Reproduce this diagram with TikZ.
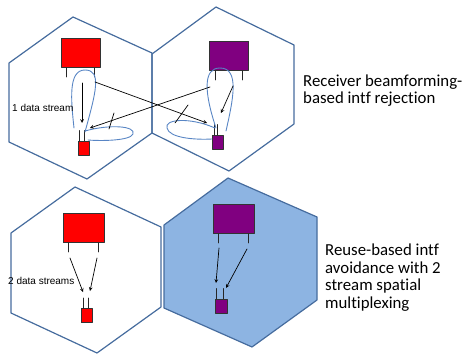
\documentclass[tikz,border=0pt]{standalone}
\usepackage{fontspec}
\setmainfont[Ligatures=NoCommon]{Carlito}
\newfontfamily\arialfont{Liberation Sans}
\definecolor{cellline}{RGB}{70,108,158}
\definecolor{cellfill}{RGB}{141,180,226}
\definecolor{beamline}{RGB}{88,133,196}
\definecolor{uepurple}{RGB}{128,0,128}
\tikzset{
	cell/.style={draw=cellline, line width=1.2pt, line join=round},
	bsbox/.style={draw=black!80, line width=0.8pt, minimum width=39pt, minimum height=29pt, inner sep=0pt},
	uebox/.style={draw=black!80, line width=0.8pt, minimum width=11pt, minimum height=14pt, inner sep=0pt},
	ant/.style={draw=black!85, line width=0.9pt},
	link/.style={->, line width=0.7pt},
	lobe/.style={draw=beamline, line width=0.9pt},
	lbl/.style={font=\arialfont\fontsize{10}{12}\selectfont, inner sep=0pt, anchor=west},
	note/.style={font=\fontsize{16.8}{17.5}\selectfont, align=left, inner sep=0pt, anchor=base west}
}
\begin{document}
\begin{tikzpicture}[x=1pt, y=-1pt, line join=round, line cap=round, >=stealth]
			\useasboundingbox (0,0) rectangle (465,355);
			% cells
			\draw[cell] (73,17)--(152,53)--(152,133)--(87,179)--(9,142)--(9,63)--cycle;
			\draw[cell] (216,7)--(294,45)--(294,124)--(229,171)--(152,133)--(152,54)--cycle;
			\draw[cell] (75,187)--(161,227)--(161,307)--(97,353)--(11,313)--(11,233)--cycle;
			\draw[cell, fill=cellfill] (228,178)--(317,217)--(317,300)--(252,347)--(164,308)--(164,225)--cycle;
			
			% base stations and users
			\node[bsbox, fill=red] (bs1) at (80.5,53) {};
			\node[bsbox, fill=uepurple] (bs2) at (229,56) {};
			\node[bsbox, fill=red, minimum width=41pt] (bs3) at (83.5,228) {};
			\node[bsbox, fill=uepurple, minimum width=41pt] (bs4) at (233.5,219) {};
			\node[uebox, fill=red] (ue1) at (83.5,148) {};
			\node[uebox, fill=uepurple] (ue2) at (217.5,142) {};
			\node[uebox, fill=red] (ue3) at (86.5,315.5) {};
			\node[uebox, fill=uepurple, minimum width=12pt] (ue4) at (221,306) {};
			
			\foreach \n in {bs1,bs2,bs3,bs4}\draw[ant] ([xshift=6pt]\n.south west)--+(0,9) ([xshift=-6pt]\n.south east)--+(0,9);
			\foreach \n/\a/\b in {ue1/2/7,ue2/3/6,ue3/3/8,ue4/2/9}\draw[ant] ([xshift=\a pt]\n.north west)--+(0,-10) ([xshift=\b pt]\n.north west)--+(0,-10);
			
			% beam patterns
			\draw[lobe] (85,132) .. controls (96,92) and (102,70) .. (85,70) .. controls (68,70) and (71,100) .. (74,128);
			\draw[lobe] (85,131) .. controls (110,124) and (136,126) .. (133,134) .. controls (130,141) and (100,141) .. (88,140);
			\draw[lobe] (216,128) .. controls (204,92) and (203,68) .. (220,68) .. controls (240,68) and (233,100) .. (226,131);
			\draw[lobe] (215,128) .. controls (190,117) and (164,119) .. (167,128) .. controls (169,138) and (195,140) .. (212,139);
			
			\path
			(82,83)coordinate (d1s)
			(82,123)coordinate (d1e)
			(95,82)coordinate (x1s)
			(207,123)coordinate (x1e)
			(210,87)coordinate (x2s)
			(90,128)coordinate (x2e)
			(233,86)coordinate (d2s)
			(221,113)coordinate (d2e)
			(70,258)coordinate (s3a)
			(83,292)coordinate (e3a)
			(97,258)coordinate (s3b)
			(90,291)coordinate (e3b)
			(219,248)coordinate (s4a)
			(216,283)coordinate (e4a)
			(247,249)coordinate (s4b)
			(226,288)coordinate (e4b)
			;
			\draw[link] (d1s)--(d1e);
			\draw[link] (x1s)--(x1e);
			\draw[link] (x2s)--(x2e);
			\draw[link] (d2s)--(d2e);
			\draw[link] (s3a)--(e3a);
			\draw[link] (s3b)--(e3b);
			\draw[link] (s4a)--(e4a);
			\draw[link] (s4b)--(e4b);
			% nulled interference
			\draw[line width=0.7pt] (109,129)--(114,113) (175,123)--(188,105);
			
			\node[lbl] (t1) at (12,108) {1 data stream};
			\node[lbl] (t2) at (8,281) {2 data streams};
			\node[note] (n1) at (303,104) {Receiver beamforming-\\based intf rejection};
			\node[note] (n2) at (325,308) {Reuse-based intf\\avoidance with 2\\stream spatial\\multiplexing};
		\end{tikzpicture}
\end{document}
